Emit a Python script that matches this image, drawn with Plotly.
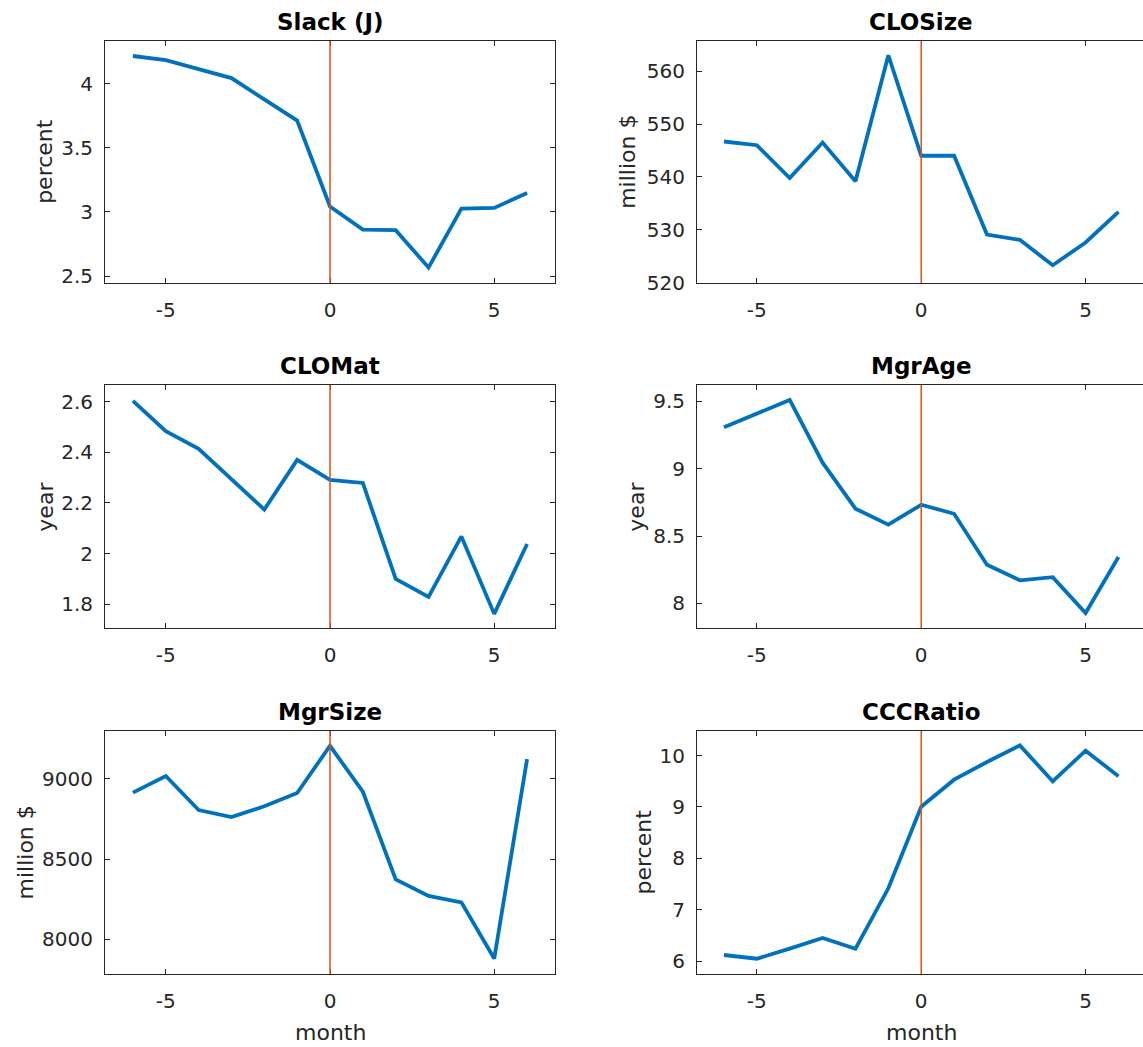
import plotly.graph_objects as go
from plotly.subplots import make_subplots

# ---------------- data ----------------
months = [-6, -5, -4, -3, -2, -1, 0, 1, 2, 3, 4, 5, 6]
EVENT_MONTH = 0

slack = [4.216, 4.184, 4.114, 4.044, 3.878, 3.712, 3.042, 2.862, 2.858, 2.566, 3.026, 3.031, 3.148]
clo_size = [546.7, 546.0, 539.8, 546.5, 539.2, 563.0, 544.0, 544.0, 529.1, 528.1, 523.3, 527.6, 533.4]
clo_mat = [2.603, 2.484, 2.414, 2.295, 2.174, 2.370, 2.291, 2.279, 1.900, 1.829, 2.068, 1.762, 2.038]
mgr_age = [9.307, 9.407, 9.510, 9.044, 8.703, 8.584, 8.732, 8.665, 8.287, 8.171, 8.195, 7.928, 8.344]
mgr_size = [8913, 9017, 8805, 8761, 8828, 8911, 9205, 8919, 8373, 8270, 8230, 7880, 9122]
ccc_ratio = [6.117, 6.045, 6.240, 6.448, 6.240, 7.416, 9.006, 9.532, 9.877, 10.200, 9.500, 10.097, 9.597]

titles = ["Slack (J)", "CLOSize", "CLOMat", "MgrAge", "MgrSize", "CCCRatio"]
ylabels = ["percent", "million $", "year", "year", "million $", "percent"]
series = [slack, clo_size, clo_mat, mgr_age, mgr_size, ccc_ratio]

x_tickvals = [-5, 0, 5]
x_ticktext = ["-5", "0", "5"]
y_tickvals = [
    [2.5, 3, 3.5, 4],
    [520, 530, 540, 550, 560],
    [1.8, 2, 2.2, 2.4, 2.6],
    [8, 8.5, 9, 9.5],
    [8000, 8500, 9000],
    [6, 7, 8, 9, 10],
]
y_ticktext = [
    ["2.5", "3", "3.5", "4"],
    ["520", "530", "540", "550", "560"],
    ["1.8", "2", "2.2", "2.4", "2.6"],
    ["8", "8.5", "9", "9.5"],
    ["8000", "8500", "9000"],
    ["6", "7", "8", "9", "10"],
]
y_ranges = [
    [2.448, 4.333],
    [520.0, 565.7],
    [1.705, 2.666],
    [7.815, 9.621],
    [7784, 9297],
    [5.747, 10.48],
]
x_label = "month"

# ---------------- layout geometry (pixels) ----------------
W, H = 1143, 1047
col_px = [(105, 555, -6.85, 6.85), (697, 1143, -6.82, 6.746)]
col_center = [330, 921.4]
row_px = [(41, 282.7), (385, 628.3), (731, 974)]
ylabel_px = [45, 628, 46, 637, 25, 643]

BLUE = "#0072BD"
ORANGE = "#D95319"
AX = "#262626"
FONT = "DejaVu Sans"

fig = make_subplots(rows=3, cols=2)

for i, (ys, title) in enumerate(zip(series, titles)):
    r, c = i // 2 + 1, i % 2 + 1
    fig.add_trace(
        go.Scatter(x=months, y=ys, mode="lines",
                   line=dict(color=BLUE, width=3.8), showlegend=False),
        row=r, col=c,
    )
    fig.add_vline(x=EVENT_MONTH, line=dict(color=ORANGE, width=1.5), row=r, col=c)

    x0, x1, xr0, xr1 = col_px[c - 1]
    t, b = row_px[r - 1]
    xdom = [x0 / W, x1 / W]
    ydom = [1 - b / H, 1 - t / H]
    fig.update_xaxes(
        domain=xdom, range=[xr0, xr1], tickvals=x_tickvals, ticktext=x_ticktext,
        showline=True, linecolor=AX, linewidth=1, mirror="ticks",
        ticks="inside", ticklen=5, tickcolor=AX, tickwidth=1,
        showgrid=False, zeroline=False, automargin=False,
        tickfont=dict(family=FONT, size=20, color=AX),
        ticklabelstandoff=9,
        row=r, col=c,
    )
    fig.update_yaxes(
        domain=ydom, range=y_ranges[i], tickvals=y_tickvals[i], ticktext=y_ticktext[i],
        showline=True, linecolor=AX, linewidth=1,
        mirror=("ticks" if c == 1 else False),
        ticks="inside", ticklen=5, tickcolor=AX, tickwidth=1,
        showgrid=False, zeroline=False, automargin=False,
        tickfont=dict(family=FONT, size=20, color=AX),
        ticklabelstandoff=7,
        row=r, col=c,
    )
    xc = col_center[c - 1]
    fig.add_annotation(
        text="<b>%s</b>" % title, xref="paper", yref="paper",
        x=xc / W, y=1 - (t - 4) / H, xanchor="center", yanchor="bottom",
        showarrow=False, font=dict(family=FONT, size=23, color="#000000"),
    )
    yc = (t + b) / 2
    fig.add_annotation(
        text=ylabels[i], xref="paper", yref="paper",
        x=ylabel_px[i] / W, y=1 - yc / H, xanchor="center", yanchor="middle",
        textangle=-90, showarrow=False,
        font=dict(family=FONT, size=22, color=AX),
    )
    if r == 3:
        fig.add_annotation(
            text=x_label, xref="paper", yref="paper",
            x=xc / W, y=0, xanchor="center", yanchor="bottom",
            showarrow=False, font=dict(family=FONT, size=22, color=AX),
        )

fig.update_layout(
    width=W, height=H,
    margin=dict(l=0, r=0, t=0, b=0, pad=0, autoexpand=False),
    paper_bgcolor="white", plot_bgcolor="white",
    font=dict(family=FONT, color=AX),
)

fig.write_html(
    "out.html",
    config={"displayModeBar": False},
    post_script="document.body.style.margin='0';document.body.style.overflow='hidden';",
)
